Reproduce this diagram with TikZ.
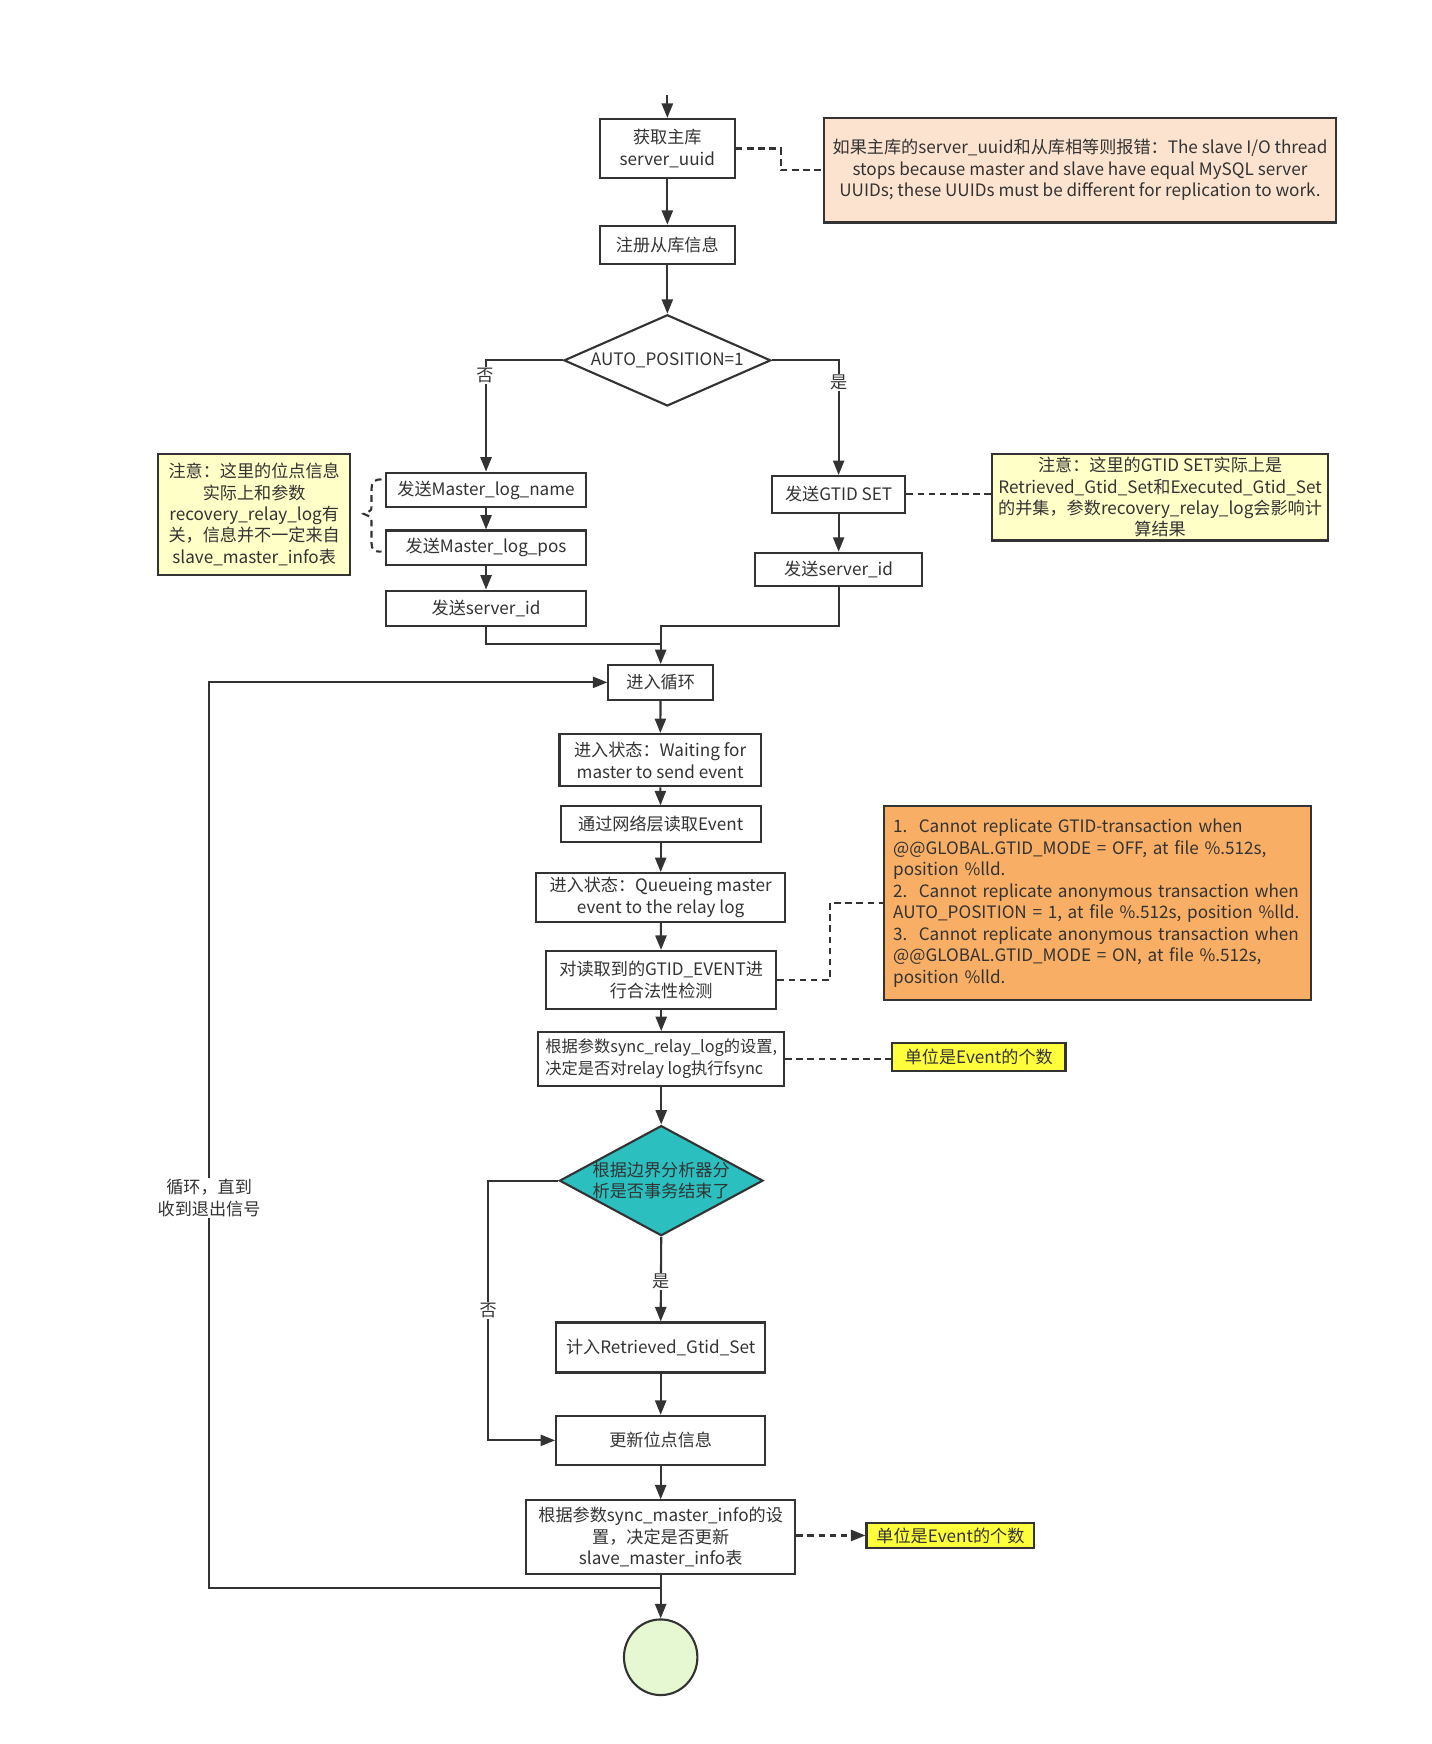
\documentclass[tikz,border=0pt]{standalone}
\usepackage{fontspec}
\setmainfont{Noto Sans CJK SC}
\usetikzlibrary{arrows.meta,shapes.geometric}
\definecolor{linec}{HTML}{333333}
\definecolor{peach}{HTML}{FCE3CF}
\definecolor{paley}{HTML}{FFFFC8}
\definecolor{orangen}{HTML}{F8AE64}
\definecolor{brighty}{HTML}{FFFF3C}
\definecolor{teal2}{HTML}{2BBFBF}
\definecolor{paleg}{HTML}{E6F8D2}
\newcommand\fs{\fontsize{15.4}{19.3}\selectfont}
\newcommand\fss{\fontsize{14.6}{19.3}\selectfont}
\tikzset{
  box/.style={draw=linec, line width=1.9pt, fill=white, inner sep=0pt, align=center, font=\fs, text=linec},
  note/.style={box},
  dia/.style={draw=linec, line width=1.9pt, shape=diamond, inner sep=0pt, aspect=1},
  arr/.style={draw=linec, line width=1.9pt, -{Triangle[length=13pt,width=10pt]}},
  ln/.style={draw=linec, line width=1.9pt},
  dsh/.style={draw=linec, line width=1.9pt, dash pattern=on 6pt off 4pt},
  lbl/.style={fill=white, inner sep=1pt, font=\fs, text=linec, align=center}
}
\begin{document}
\begin{tikzpicture}[x=1pt,y=-1pt]
\useasboundingbox[fill=white] (0,0) rectangle (1287,1568);

% top part
\coordinate (top) at (600,85);
\node[box, minimum width=121pt, minimum height=53pt] (a) at (600,133.5) {获取主库\\server\_uuid};
\node[box, minimum width=121pt, minimum height=34pt] (b) at (600,220) {注册从库信息};
\node[dia, fill=white, minimum width=186pt, minimum height=82pt] (d1) at (600,324) {};
\node[font=\fs, text=linec, inner sep=0pt] (d1t) at (600,324) {AUTO\_POSITION=1};

\node[note, fill=peach, minimum width=460pt, minimum height=94pt] (n1) at (971,153)
  {如果主库的server\_uuid和从库相等则报错：The slave I/O thread\\
   stops because master and slave have equal MySQL server\\
   UUIDs; these UUIDs must be different for replication to work.};

% left branch
\node[box, minimum width=180pt, minimum height=31pt] (c1) at (437,440.5) {发送Master\_log\_name};
\node[box, minimum width=180pt, minimum height=31pt] (c2) at (437,492.5) {发送Master\_log\_pos};
\node[box, minimum width=180pt, minimum height=32pt] (c3) at (437,547) {发送server\_id};
\node[note, fill=paley, minimum width=173pt, minimum height=109pt] (n2) at (228.5,462.5)
  {注意：这里的位点信息\\实际上和参数\\recovery\_relay\_log有\\关，信息并不一定来自\\slave\_master\_info表};

% right branch
\node[box, minimum width=120pt, minimum height=33pt] (e1) at (754,444.5) {发送GTID SET};
\node[box, minimum width=150pt, minimum height=30pt] (e2) at (754,512) {发送server\_id};
\node[note, fill=paley, minimum width=302pt, minimum height=78pt] (n3) at (1043,447)
  {注意：这里的GTID SET实际上是\\Retrieved\_Gtid\_Set和Executed\_Gtid\_Set\\的并集，参数recovery\_relay\_log会影响计\\算结果};

% loop part
\node[box, minimum width=94pt, minimum height=31pt] (lp) at (594,613.5) {进入循环};
\node[box, minimum width=181pt, minimum height=47pt] (f) at (593.5,683.5) {进入状态：Waiting for\\master to send event};
\node[box, minimum width=180pt, minimum height=32pt] (g) at (594,741) {通过网络层读取Event};
\node[box, minimum width=224pt, minimum height=44pt] (h) at (594,807) {进入状态：Queueing master\\event to the relay log};
\node[box, minimum width=207pt, minimum height=52pt] (i) at (594.5,881) {对读取到的GTID\_EVENT进\\行合法性检测};
\node[note, fill=orangen, minimum width=384pt, minimum height=174pt, text width=368pt, inner sep=8pt, align=left] (n4) at (987,812)
  {1.\ \ Cannot replicate GTID-transaction when\\
   @@GLOBAL.GTID\_MODE = OFF, at file \%.512s,\\
   position \%lld.\\
   2.\ \ Cannot replicate anonymous transaction when\\
   AUTO\_POSITION = 1, at file \%.512s, position \%lld.\\
   3.\ \ Cannot replicate anonymous transaction when\\
   @@GLOBAL.GTID\_MODE = ON, at file \%.512s,\\
   position \%lld.};
\node[box, minimum width=221pt, minimum height=48pt, align=left, font=\fss] (j) at (594.5,952) {根据参数sync\_relay\_log的设置,\\决定是否对relay log执行fsync};
\node[note, fill=brighty, minimum width=156pt, minimum height=25pt] (k) at (880,950.5) {单位是Event的个数};
\node[dia, fill=teal2, minimum width=183pt, minimum height=99pt] (d2) at (594.5,1061.5) {};
\node[font=\fs, text=linec, inner sep=0pt, align=center] (d2t) at (594.5,1061.5) {根据边界分析器分\\析是否事务结束了};
\node[box, minimum width=188pt, minimum height=45pt] (m) at (594,1211.5) {计入Retrieved\_Gtid\_Set};
\node[box, minimum width=188pt, minimum height=44pt] (u) at (594,1295) {更新位点信息};
\node[box, minimum width=242pt, minimum height=66pt] (o) at (594,1382) {根据参数sync\_master\_info的设\\置，决定是否更新\\slave\_master\_info表};
\node[note, fill=brighty, minimum width=151pt, minimum height=23pt] (p) at (854.5,1380.5) {单位是Event的个数};
\node[draw=linec, line width=1.9pt, fill=paleg, ellipse, minimum width=66pt, minimum height=68pt, inner sep=0pt] (q) at (594,1490) {};

% connectors top
\draw[arr] (top) -- (a);
\draw[arr] (a) -- (b);
\draw[arr] (b) -- (d1);
\draw[dsh] (a.east) -- (702,133.5) |- (n1.west);
\draw[arr] (d1.west) -| (c1.north);
\draw[arr] (d1.east) -| (e1.north);
\node[lbl] (no1) at (436,338) {否};
\node[lbl] (yes1) at (754,344) {是};
\draw[arr] (c1) -- (c2);
\draw[arr] (c2) -- (c3);
\draw[arr] (e1) -- (e2);
\draw[dsh] (e1.east) -- (e1.east -| n3.west);
\draw[dsh] (343,431) .. controls (336,431) and (334,434) .. (334,440) -- (334,455)
   .. controls (334,459) .. (327,462) .. controls (334,465) .. (334,469) -- (334,488)
   .. controls (334,494) and (336,496) .. (343,496);
\coordinate (jn) at (594,563);
\draw[ln] (c3.south) |- (594,579);
\draw[arr] (e2.south) |- (jn) -- (lp.north);

% connectors loop
\draw[arr] (lp) -- (f);
\draw[arr] (f) -- (g);
\draw[arr] (g) -- (h);
\draw[arr] (h) -- (i);
\draw[dsh] (i.east) -- (746,881) |- (n4.west);
\draw[arr] (i) -- (j);
\draw[dsh] (j.east) -- (j.east -| k.west);
\draw[arr] (j) -- (d2);
\draw[arr] (d2.south) -- (m.north);
\node[lbl] (yes2) at (594,1152) {是};
\coordinate (l2) at (439,1061.5);
\draw[arr] (d2.west) -- (l2) |- (u.west);
\node[lbl] (no2) at (439,1178) {否};
\draw[arr] (m) -- (u);
\draw[arr] (u) -- (o);
\draw[dsh, -{Triangle[length=13pt,width=10pt]}] (o.east |- p.west) -- (p.west);
\draw[arr] (o) -- (q);
\coordinate (lb) at (594,1428);
\coordinate (lc) at (188,1428);
\draw[arr] (lb) -- (lc) |- (lp.west);
\node[lbl] (looplbl) at (188,1077) {循环，直到\\收到退出信号};
\end{tikzpicture}
\end{document}
